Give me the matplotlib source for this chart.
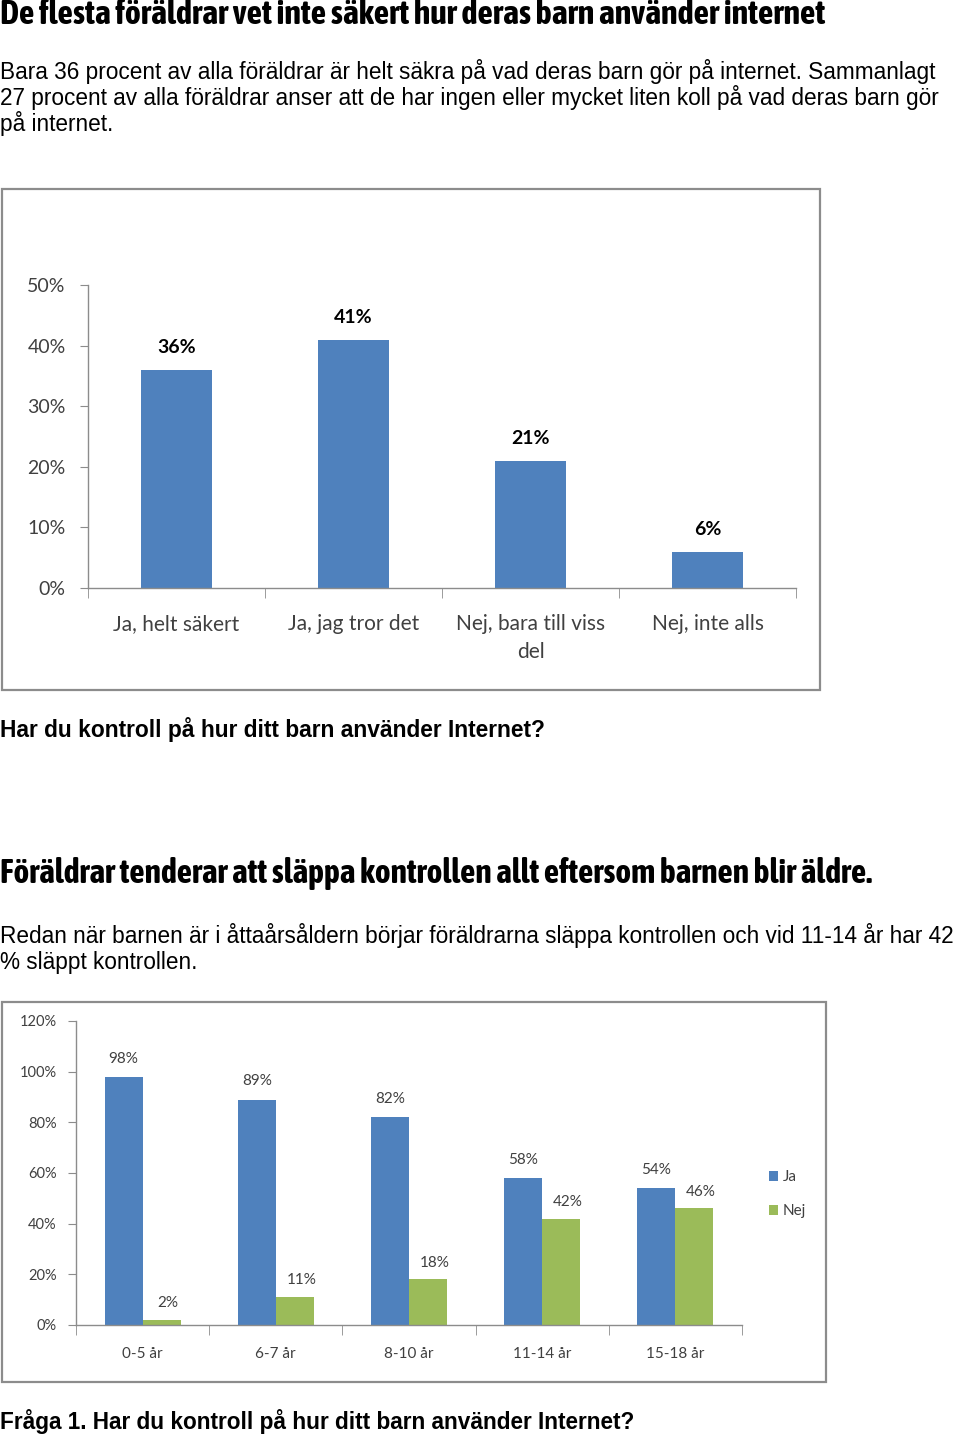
import numpy as np
import matplotlib.pyplot as plt
from matplotlib import font_manager as fm
from matplotlib.patches import Rectangle

# data
q1_labels = ["Ja, helt säkert", "Ja, jag tror det", "Nej, bara till viss\ndel", "Nej, inte alls"]
q1_values = [0.36, 0.41, 0.21, 0.06]

age_labels = ["0-5 år", "6-7 år", "8-10 år", "11-14 år", "15-18 år"]
ja_values = [0.98, 0.89, 0.82, 0.58, 0.54]
nej_values = [0.02, 0.11, 0.18, 0.42, 0.46]

BLUE = "#4F81BD"
GREEN = "#9BBB59"
GRID = "#8C8C8C"
TICKC = "#404040"
W, H = 960, 1436
chart_font = ["Lato", "DejaVu Sans"]
body_font = ["Liberation Sans", "DejaVu Sans"]

# look for a narrow face for the headings, else plain Liberation Sans
narrow = [f.name for f in fm.fontManager.ttflist
          if ("Narrow" in f.name or "Condensed" in f.name) and f.weight in (700, "bold")]
head_font = ([narrow[0]] if narrow else []) + body_font

fig = plt.figure(figsize=(W / 100, H / 100), dpi=100)
renderer = fig.canvas.get_renderer()


def fx(x):
    return x / W


def fy(y):
    return 1 - y / H


def text(x, y, s, width=None, **kw):
    t = fig.text(fx(x), fy(y), s, va="center", ha="left", **kw)
    if width:
        # scale the size so the line spans the same width as in the page
        w = t.get_window_extent(renderer).width
        t.set_fontsize(t.get_fontsize() * width / w)
    return t


def frame(x0, y0, x1, y1):
    fig.patches.append(Rectangle((fx(x0), fy(y1)), fx(x1) - fx(x0), fy(y0) - fy(y1),
                                 transform=fig.transFigure, fill=False,
                                 edgecolor=GRID, lw=1.6))


def pct(v):
    return f"{round(v * 100)}%"


def style_axes(ax, labels, ymax, step, tick_fs, label_fs):
    n = len(labels)
    ax.set_xlim(-0.5, n - 0.5)
    ax.set_ylim(0, ymax)
    ax.set_facecolor("none")
    for s in ("top", "right"):
        ax.spines[s].set_visible(False)
    for s in ("left", "bottom"):
        ax.spines[s].set_color(GRID)
        ax.spines[s].set_linewidth(1)
    yt = np.arange(0, ymax + 1e-9, step)
    ax.set_yticks(yt)
    ax.set_yticklabels([pct(v) for v in yt], family=chart_font, fontsize=tick_fs, color=TICKC)
    ax.tick_params(axis="y", length=6, color=GRID, pad=10)
    ax.set_xticks(np.arange(n))
    ax.set_xticklabels(labels, family=chart_font, fontsize=label_fs, color=TICKC,
                       linespacing=1.45)
    ax.tick_params(axis="x", length=0, pad=16)
    ax.set_xticks(np.arange(n + 1) - 0.5, minor=True)
    ax.tick_params(axis="x", which="minor", length=7, color=GRID)


# texts
text(0, 15, "De flesta föräldrar vet inte säkert hur deras barn använder internet",
     width=822, family=head_font, fontweight="bold", fontsize=20)
text(0, 71, "Bara 36 procent av alla föräldrar är helt säkra på vad deras barn gör på internet. Sammanlagt",
     width=938, family=body_font, fontsize=15)
text(0, 97, "27 procent av alla föräldrar anser att de har ingen eller mycket liten koll på vad deras barn gör",
     width=942, family=body_font, fontsize=15)
text(0, 123, "på internet.", family=body_font, fontsize=16.3)
text(0, 729, "Har du kontroll på hur ditt barn använder Internet?",
     width=545, family=body_font, fontweight="bold", fontsize=14.5)
text(0, 873, "Föräldrar tenderar att släppa kontrollen allt eftersom barnen blir äldre.",
     width=868, family=head_font, fontweight="bold", fontsize=20)
text(0, 936, "Redan när barnen är i åttaårsåldern börjar föräldrarna släppa kontrollen och vid 11-14 år har 42",
     width=957, family=body_font, fontsize=15)
text(0, 962, "% släppt kontrollen.", family=body_font, fontsize=16.3)
text(0, 1421, "Fråga 1. Har du kontroll på hur ditt barn använder Internet?",
     width=637, family=body_font, fontweight="bold", fontsize=14.5)

# chart 1
frame(2, 189, 820, 690)
ax1 = fig.add_axes([fx(88), fy(588), fx(796) - fx(88), fy(285) - fy(588)])
x1 = np.arange(len(q1_values))
ax1.bar(x1, q1_values, width=0.4, color=BLUE)
for xi, v in zip(x1, q1_values):
    ax1.annotate(pct(v), (xi, v), xytext=(0, 16), textcoords="offset points",
                 ha="center", va="center", family=chart_font, fontweight="bold",
                 fontsize=14, color="black")
style_axes(ax1, q1_labels, 0.5, 0.1, 14, 15)
ax1.tick_params(axis="x", pad=19)

# chart 2
frame(2, 1002, 826, 1382)
ax2 = fig.add_axes([fx(76), fy(1325), fx(742) - fx(76), fy(1021) - fy(1325)])
x2 = np.arange(len(age_labels))
bw = 0.285
ax2.bar(x2 - bw / 2, ja_values, width=bw, color=BLUE, label="Ja")
ax2.bar(x2 + bw / 2, nej_values, width=bw, color=GREEN, label="Nej")
for xi, a, b in zip(x2, ja_values, nej_values):
    ax2.annotate(pct(a), (xi - bw / 2, a), xytext=(0, 13), textcoords="offset points",
                 ha="center", va="center", family=chart_font, fontsize=11, color=TICKC)
    ax2.annotate(pct(b), (xi + bw / 2 + 0.05, b), xytext=(0, 12), textcoords="offset points",
                 ha="center", va="center", family=chart_font, fontsize=11, color=TICKC)
style_axes(ax2, age_labels, 1.2, 0.2, 10.5, 11)
ax2.tick_params(axis="y", pad=8)
ax2.tick_params(axis="x", pad=16)
ax2.legend(loc="center left", bbox_to_anchor=(1.02, 0.43), frameon=False,
           prop={"family": chart_font, "size": 11}, handlelength=0.6, handleheight=0.6,
           labelspacing=1.3, labelcolor=TICKC, handletextpad=0.3)

fig.savefig("out.png", dpi=100)
